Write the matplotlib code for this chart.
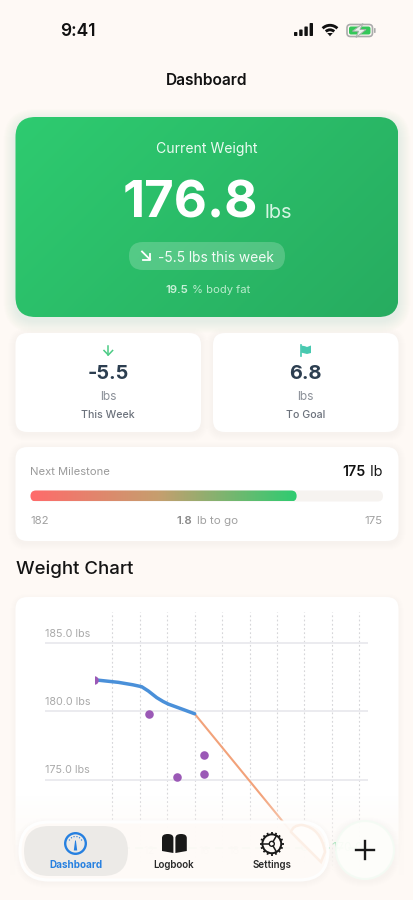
#!/usr/bin/env python
# -*- coding: utf-8 -*-
"""Weight dashboard phone screen with the weight chart under a frosted tab bar."""

import numpy as np
import matplotlib
matplotlib.use("Agg")
import matplotlib.pyplot as plt
from matplotlib.patches import Arc, Circle, FancyBboxPatch, PathPatch, Polygon
from matplotlib.path import Path as MPath

plt.rcParams["font.family"] = ["Inter", "Roboto", "DejaVu Sans"]

# chart data
trend_x = [0.34, 0.43, 1.22, 1.75, 2.07, 2.31, 2.62, 2.85, 3.04, 3.53, 4.0]
trend_y = [182.3, 182.29, 182.12, 181.94, 181.8, 181.49, 181.0, 180.72, 180.53, 180.17, 179.82]
logged_x = [0.34, 2.34, 3.35, 4.34, 4.34]
logged_y = [182.3, 179.8, 175.2, 176.8, 175.4]
projection_x = [4.0, 8.0]
projection_y = [179.82, 170.0]
goal_value = 170.0
y_ticks = [185.0, 180.0, 175.0]
x_grid = [1, 2, 3, 4, 5, 6, 7, 8, 9, 10]
faint_day_x = [2.35, 4.35, 5.45]
faint_day_labels = ["12", "16", "18"]

# milestone bar
milestone_start = 182
milestone_end = 175
milestone_share = 0.755

BG = "#FEF9F5"
BLUE = "#2680E0"
INK = "#1A1A1A"
SLATE = "#2C3E50"


def fpx(size):
    return size * 0.72


def rrect(ax, x0, y0, x1, y1, r, **kw):
    patch = FancyBboxPatch(
        (x0 + r, y0 + r), x1 - x0 - 2 * r, y1 - y0 - 2 * r,
        boxstyle=f"round,pad={r},rounding_size={r}", **kw,
    )
    ax.add_patch(patch)
    return patch


def shadow(ax, x0, y0, x1, y1, r, color, spread=10, dy=3, alpha=0.012):
    for i in range(spread, 0, -1):
        rrect(ax, x0 - i, y0 - i + dy, x1 + i, y1 + i + dy, r + i, fc=color, ec="none", alpha=alpha)


def label(ax, x, y, s, size, color=INK, ha="center", weight="normal", va="center", alpha=None):
    # Inter sits a little high when centred on its full line box
    return ax.text(x, y + 1.4, s, fontsize=fpx(size), color=color, ha=ha, va=va, fontweight=weight, alpha=alpha)


def draw_status_bar(ax):
    label(ax, 78, 30.5, "9:41", 17.5, color="#111111", weight="semibold")
    for i, h in enumerate([4, 6.5, 9.5, 13]):
        rrect(ax, 294 + i * 5.2, 36 - h, 297.4 + i * 5.2, 36, 0.8, fc="#111111", ec="none")
    for r, w in [(10.4, 2.3), (5.9, 2.3)]:
        ax.add_patch(Arc((330, 35.7), 2 * r, 2 * r, theta1=225, theta2=315, color="#111111", lw=w * 0.9))
    ax.add_patch(Polygon([[330, 36.3], [327.2, 33], [332.8, 33]], fc="#111111", ec="none"))
    rrect(ax, 347, 24.5, 372.5, 36.5, 3.5, fc="none", ec="#ABABAB", lw=1.2)
    rrect(ax, 349, 26.5, 370.5, 34.5, 2, fc="#34C759", ec="none")
    rrect(ax, 374, 28, 375.6, 33, 0.7, fc="#ABABAB", ec="none")
    ax.add_patch(Polygon([[363, 23.5], [352.5, 31.2], [358.5, 31.2], [356, 37.5], [366, 29.5], [360, 29.5]],
                         fc="#EAF3EC", ec="#A6B0A8", lw=0.7))


def draw_hero(ax):
    shadow(ax, 15.5, 117, 398.5, 317, 20, "#2ECC71", spread=12, dy=4, alpha=0.007)
    card = rrect(ax, 15.5, 117, 398.5, 317, 20, fc="none", ec="none")
    xx, yy = np.meshgrid(np.linspace(0, 1, 200), np.linspace(0, 1, 100))
    t = (xx * 383 + yy * 200) / 583
    start, end = np.array([0x2E, 0xCB, 0x70]), np.array([0x27, 0xAC, 0x60])
    img = start + (end - start) * t[..., None]
    im = ax.imshow(img / 255.0, extent=(15.5, 398.5, 317, 117), aspect="auto", zorder=1)
    im.set_clip_path(card)

    label(ax, 207, 148, "Current Weight", 14, color="#EAFBF1").set_zorder(3)
    ax.text(190, 218, "176.8", fontsize=fpx(51), color="white", ha="center", va="baseline", fontweight="bold", zorder=3)
    ax.text(265, 218, "lbs", fontsize=fpx(20), color="#D5F5E3", ha="left", va="baseline", zorder=3)
    rrect(ax, 129, 242, 285, 270, 14, fc="white", ec="none", alpha=0.2, zorder=2)
    ax.plot([142, 150], [251.5, 259.5], color="white", lw=1.3, zorder=3)
    ax.plot([150, 150, 143.5], [253.5, 259.5, 259.5], color="white", lw=1.3, zorder=3)
    ax.text(158, 261.5, "-5.5 lbs this week", fontsize=fpx(13.8), color="#F2FCF6", ha="left", va="baseline", zorder=3)
    ax.text(165, 293, "19.5", fontsize=fpx(11.4), color="#C6F0D6", ha="left", va="baseline", fontweight="semibold", zorder=3)
    ax.text(192, 293, "% body fat", fontsize=fpx(11.2), color="#B7EBCB", ha="left", va="baseline", zorder=3)


def draw_stat_cards(ax):
    for x0, x1 in [(15.5, 201), (213, 398.5)]:
        shadow(ax, x0, 333, x1, 432, 12, "#C9B8A8", spread=7, dy=2, alpha=0.012)
        rrect(ax, x0, 333, x1, 432, 12, fc="white", ec="none", zorder=1)
    # down arrow
    ax.plot([108.3, 108.3], [346, 355], color="#4CCB85", lw=1.1, zorder=3)
    ax.plot([104, 108.3, 112.6], [350.5, 355, 350.5], color="#4CCB85", lw=1.1, zorder=3)
    # flag
    ax.plot([301.2, 301.2], [345, 355.5], color="#48C9B0", lw=1.2, zorder=3)
    ax.add_patch(Polygon([[301.2, 345.5], [305, 346.2], [307, 347], [311, 345.5], [311, 353],
                          [307, 354], [305, 353.5], [301.2, 352.6]], fc="#48C9B0", ec="none", zorder=3))
    for cx, value, name in [(108.3, "-5.5", "This Week"), (305.5, "6.8", "To Goal")]:
        label(ax, cx, 373, value, 20, color=SLATE, weight="bold").set_zorder(3)
        label(ax, cx, 396, "lbs", 12, color="#8B9098").set_zorder(3)
        label(ax, cx, 414, name, 10.6, color="#6C727C", weight="medium").set_zorder(3)


def draw_milestone(ax):
    shadow(ax, 15.5, 447, 398.5, 541, 12, "#C9B8A8", spread=7, dy=2, alpha=0.012)
    rrect(ax, 15.5, 447, 398.5, 541, 12, fc="white", ec="none", zorder=1)
    label(ax, 30.5, 471, "Next Milestone", 11.2, color="#9A9A9A", ha="left").set_zorder(3)
    ax.text(383, 476, " lb", fontsize=fpx(14.5), color=INK, ha="right", va="baseline", zorder=3)
    ax.text(366, 476, f"{milestone_end}", fontsize=fpx(14.2), color="#111111", ha="right", va="baseline",
            fontweight="semibold", zorder=3)

    x0, x1 = 30.5, 383.0
    rrect(ax, x0, 490.5, x1, 501.5, 5.5, fc="#F6F3F0", ec="none", zorder=2)
    fill_end = x0 + (x1 - x0) * milestone_share
    bar = rrect(ax, x0, 490.5, fill_end, 501.5, 5.5, fc="none", ec="none", zorder=3)
    stops = np.array([[0xFF, 0x6B, 0x6B], [0xC6, 0x9E, 0x6E], [0x2E, 0xCC, 0x71]], dtype=float)
    t = np.linspace(0, 1, 256)
    ramp = np.stack([np.interp(t, [0, 0.48, 1], stops[:, i]) for i in range(3)], axis=-1)[None, :, :]
    im = ax.imshow(ramp / 255.0, extent=(x0, fill_end, 501.5, 490.5), aspect="auto", zorder=3)
    im.set_clip_path(bar)

    label(ax, x0, 519.5, f"{milestone_start}", 11.5, color="#A0A0A0", ha="left").set_zorder(3)
    label(ax, x1, 519.5, f"{milestone_end}", 11.5, color="#A0A0A0", ha="right").set_zorder(3)
    label(ax, 177, 519.5, "1.8", 11.5, color="#8A8A8A", ha="left", weight="semibold").set_zorder(3)
    label(ax, 197, 519.5, "lb to go", 11.5, color="#A0A0A0", ha="left").set_zorder(3)


def draw_chart(fig):
    # axes frame covers the plot area only, so the first point is cut at its left edge
    left, right, top, bottom = 95.5, 368.0, 611.7, 870.0
    ax = fig.add_axes([left / 414, 1 - bottom / 900, (right - left) / 414, (bottom - top) / 900], zorder=1)
    ax.patch.set_alpha(0)
    ax.set_xlim(1 + (left - 112.3) / 27.44, 1 + (right - 112.3) / 27.44)
    ax.set_ylim(180 - (bottom - 711.3) / 13.66, 180 - (top - 711.3) / 13.66)
    ax.axis("off")

    label_x = 1 + (45.5 - 112.3) / 27.44
    for value in x_grid:
        ax.axvline(value, color="#D6D6D9", lw=0.8, ls=(0, (1.6, 2.2)), zorder=1)
    ax.hlines(y_ticks, label_x, ax.get_xlim()[1], color="#E9E9EE", lw=1.3, clip_on=False, zorder=1)
    for value in y_ticks:
        ax.annotate(f"{value:.1f} lbs", (label_x, value), xytext=(0, 3), textcoords="offset points",
                    fontsize=fpx(10.8), color="#A9A9A9", ha="left", va="bottom", annotation_clip=False)

    ax.axhline(goal_value, color="#2ECC71", lw=1.2, ls=(0, (5, 3)), zorder=1)
    ax.text(7.85, goal_value, "Goal: 170.0", fontsize=fpx(12), color="#2ECC71", ha="left", va="center", zorder=2)
    for x, s in zip(faint_day_x, faint_day_labels):
        ax.text(x, goal_value - 0.2, s, fontsize=fpx(11), color="#999999", ha="center", va="center", zorder=2)

    ax.plot(projection_x, projection_y, color="#F2A27A", lw=1.5, zorder=3)
    ax.plot(trend_x, trend_y, color="#4A90D9", lw=2.5, solid_capstyle="round", solid_joinstyle="round", zorder=4)
    ax.scatter(logged_x, logged_y, s=38, color="#9B59B6", linewidths=0, zorder=5)


def draw_gauge(ax):
    cx, cy = 75.5, 843.5
    ax.add_patch(Circle((cx, cy), 10.3, fc="none", ec=BLUE, lw=1.7))
    for deg in [-60, -35, -12, 12, 35, 60]:
        a = np.radians(deg)
        ax.add_patch(Circle((cx + 7 * np.sin(a), cy - 7 * np.cos(a)), 0.65, fc=BLUE, ec="none"))
    ax.add_patch(Polygon([[cx - 0.4, cy - 3], [cx + 0.4, cy - 3], [cx + 1.7, cy + 7], [cx - 1.7, cy + 7]], fc=BLUE, ec="none"))


def draw_book(ax):
    dark = "#191919"
    for x0, x1, low_in, low_out in [(162, 173.4, 853, 851), (186.8, 175.4, 853, 851)]:
        codes = [MPath.MOVETO, MPath.LINETO, MPath.CURVE3, MPath.CURVE3, MPath.CURVE3, MPath.CURVE3, MPath.LINETO, MPath.CLOSEPOLY]
        xm = (x0 + x1) / 2
        verts = [(x0, low_out), (x0, 838), (x0, 834), (xm, 834), (x1, 834), (x1, 838), (x1, low_in), (x0, low_out)]
        ax.add_patch(PathPatch(MPath(verts, codes), fc=dark, ec="none"))


def draw_gear(ax):
    cx, cy = 271.8, 843.8
    dark = "#191919"
    ax.add_patch(Circle((cx, cy), 9.4, fc="none", ec=dark, lw=1.4))
    ax.add_patch(Circle((cx, cy), 2.5, fc="none", ec=dark, lw=1.0))
    for i in range(16):
        a = 2 * np.pi * i / 16
        ax.plot([cx + 9.6 * np.cos(a), cx + 11.8 * np.cos(a)], [cy + 9.6 * np.sin(a), cy + 11.8 * np.sin(a)],
                color=dark, lw=1.3, solid_capstyle="butt")
    for deg in [180, 60, -60]:
        a = np.radians(deg)
        ax.plot([cx + 2.5 * np.cos(a), cx + 9 * np.cos(a)], [cy + 2.5 * np.sin(a), cy + 9 * np.sin(a)], color=dark, lw=1.1)


def draw_tab_bar(fig):
    ax = fig.add_axes([0, 0, 1, 1], zorder=2)
    ax.patch.set_alpha(0)

    # page fades into the background behind the bar
    fade = np.linspace(0, 1, 105) ** 0.85
    rgba = np.ones((105, 1, 4))
    rgba[..., :3] = matplotlib.colors.to_rgb(BG)
    rgba[:, 0, 3] = np.clip(fade * 1.25, 0, 1)
    ax.imshow(rgba, extent=(0, 414, 900, 795), aspect="auto", zorder=0)

    shadow(ax, 20, 822, 328, 880, 29, "#B5A698", spread=6, dy=2, alpha=0.008)
    rrect(ax, 20, 822, 328, 880, 29, fc="#FFFBF8", ec="#FFFFFF", lw=2.2, alpha=0.93, zorder=1)
    rrect(ax, 24, 826, 128, 876, 25, fc="#EBE9E6", ec="none", alpha=0.9, zorder=1)

    # refraction highlight in the bar's right end
    codes = [MPath.MOVETO, MPath.CURVE3, MPath.CURVE3, MPath.CURVE3, MPath.CURVE3, MPath.LINETO, MPath.CURVE3, MPath.CURVE3, MPath.CLOSEPOLY]
    verts = [(291, 832), (293, 825), (302, 825), (321, 828), (325, 852), (321, 862), (291, 832), (291, 832), (291, 832)]
    ax.add_patch(PathPatch(MPath(verts, codes), fc="#FFFDFB", ec="#FCEFE6", lw=1.8, zorder=1))

    shadow(ax, 336, 821, 394, 879, 29, "#B5A698", spread=6, dy=2, alpha=0.008)
    ax.add_patch(Circle((365, 850), 29, fc="#FEFEFB", ec="#F4FBF4", lw=1.5, alpha=0.93, zorder=1))
    ax.plot([365, 365], [841, 859], color="#1A1A1A", lw=1.7, zorder=2)
    ax.plot([356, 374], [850, 850], color="#1A1A1A", lw=1.7, zorder=2)

    draw_gauge(ax)
    draw_book(ax)
    draw_gear(ax)
    label(ax, 75.5, 863.5, "Dashboard", 9.9, color=BLUE, weight="bold")
    label(ax, 173.5, 863.5, "Logbook", 9.8, color="#2B2B2B", weight="semibold")
    label(ax, 272, 863.5, "Settings", 9.8, color="#2B2B2B", weight="semibold")

    ax.set_xlim(0, 414)
    ax.set_ylim(900, 0)
    ax.axis("off")


def main():
    fig = plt.figure(figsize=(4.14, 9.0), dpi=100, facecolor=BG)
    base = fig.add_axes([0, 0, 1, 1], zorder=0)
    base.set_facecolor(BG)

    draw_status_bar(base)
    label(base, 207, 79.5, "Dashboard", 15.5, color="#111111", weight="semibold")
    draw_hero(base)
    draw_stat_cards(base)
    draw_milestone(base)
    label(base, 16, 568, "Weight Chart", 18.6, color="#141414", ha="left", weight="medium")
    shadow(base, 15.5, 597, 398.5, 905, 12, "#C9B8A8", spread=5, dy=2, alpha=0.008)
    rrect(base, 15.5, 597, 398.5, 905, 12, fc="white", ec="none", zorder=1)

    base.set_xlim(0, 414)
    base.set_ylim(900, 0)
    base.axis("off")

    draw_chart(fig)
    draw_tab_bar(fig)

    fig.savefig("out.png", dpi=100, facecolor=BG)
    plt.close(fig)


if __name__ == "__main__":
    main()
